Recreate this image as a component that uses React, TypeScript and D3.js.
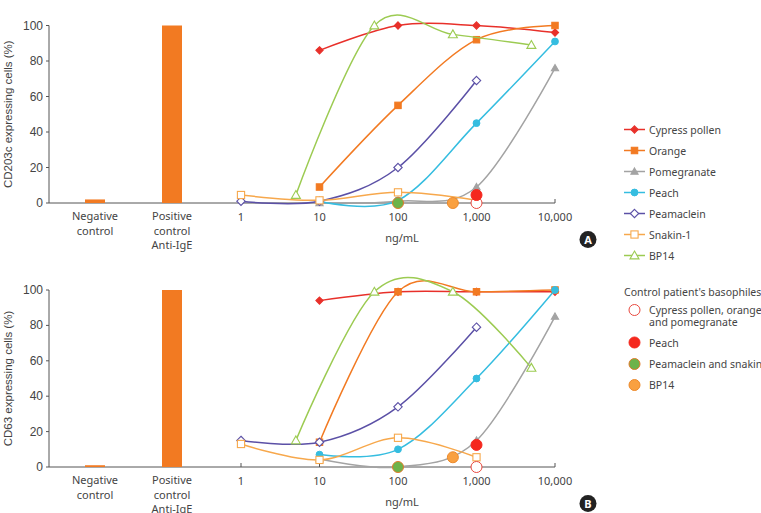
import React from "react";
import * as d3 from "d3";

// ---------- data ----------
const categories = ["Negative control", "Positive control Anti-IgE"];
const categoryLines = [["Negative", "control"], ["Positive", "control", "Anti-IgE"]];
const barsA = [2, 100];
const barsB = [1, 100];
const xTicks = [1, 10, 100, 1000, 10000];
const yTicks = [0, 20, 40, 60, 80, 100];

const seriesNames = ["Cypress pollen", "Orange", "Pomegranate", "Peach", "Peamaclein", "Snakin-1", "BP14"];
const seriesColors = ["#e8302a", "#f27a22", "#a3a3a3", "#35bde0", "#5b50a6", "#f7a84c", "#9ccb52"];
const seriesShapes = ["diamondFill", "squareFill", "triangleFill", "circleFill", "diamondOpen", "squareOpen", "triangleOpen"];

const concStd = [10, 100, 1000, 10000];
const concLow = [1, 10, 100, 1000];
const concBP = [5, 50, 500, 5000];

// Panel A (CD203c)
const cypressA = [86, 100, 100, 96];
const orangeA = [9, 55, 92, 100];
const pomegranateA = [0, 1, 9, 76];
const peachA = [1, 1.5, 45, 91];
const peamacleinA = [1, 1, 20, 69];
const snakinA = [4.5, 1.5, 6, 1.5];
const bp14A = [4.5, 100, 95, 89];

// Panel B (CD63)
const cypressB = [94, 99, 99, 99];
const orangeB = [14, 99, 99, 100];
const pomegranateB = [4.5, 0, 15, 85];
const peachB = [7, 10, 50, 100];
const peamacleinB = [15, 14, 34, 79];
const snakinB = [13, 4, 16.5, 5.5];
const bp14B = [15, 99, 99, 56];

const seriesX = [concStd, concStd, concStd, concStd, concLow, concLow, concBP];
const seriesA = [cypressA, orangeA, pomegranateA, peachA, peamacleinA, snakinA, bp14A];
const seriesB = [cypressB, orangeB, pomegranateB, peachB, peamacleinB, snakinB, bp14B];

// Control patient's basophiles
const controlNames = [["Cypress pollen, orange", "and pomegranate"], ["Peach"], ["Peamaclein and snakin"], ["BP14"]];
const controlFill = ["#ffffff", "#f5281e", "#6db34a", "#f9a040"];
const controlStroke = ["#e8493f", "#f5281e", "#e07a2a", "#ec8a2c"];
const controlX = [1000, 1000, 100, 500];
const controlA = [0, 4.5, 0, 0];
const controlB = [0, 12.5, 0, 5.5];

// ---------- layout ----------
const W = 761, H = 513;
const axisLeft = 49;
const xScale = d3.scaleLog().domain([1, 10000]).range([241, 555]);
const catScale = d3.scalePoint().domain(categories).range([95, 172]);
const yA = d3.scaleLinear().domain([0, 100]).range([203, 25.5]);
const yB = d3.scaleLinear().domain([0, 100]).range([467, 290]);

const tickFont = "'Liberation Sans', Arial, sans-serif";
const labelFont = "'Noto Sans', sans-serif";
const textColor = "#444";

function Marker({ shape, x, y, color }: { shape: string; x: number; y: number; color: string }) {
  const open = shape.endsWith("Open");
  const fill = open ? "#fff" : color;
  if (shape.startsWith("diamond")) {
    const s = open ? 4.2 : 3.6;
    return <path d={`M${x},${y - s}L${x + s},${y}L${x},${y + s}L${x - s},${y}Z`} fill={fill} stroke={color} strokeWidth={1.1} />;
  }
  if (shape.startsWith("square")) {
    const s = open ? 3.6 : 3.2;
    return <rect x={x - s} y={y - s} width={2 * s} height={2 * s} fill={fill} stroke={color} strokeWidth={1.1} />;
  }
  if (shape.startsWith("triangle")) {
    const s = open ? 4.5 : 3.6;
    return <path d={`M${x},${y - s}L${x + s},${y + s * 0.75}L${x - s},${y + s * 0.75}Z`} fill={fill} stroke={color} strokeWidth={1.1} />;
  }
  return <circle cx={x} cy={y} r={3.4} fill={fill} stroke={color} strokeWidth={1} />;
}

function Panel({ y, bars, series, control, title, badge, badgeY }: any) {
  const y0 = y(0);
  const line = d3
    .line<[number, number]>()
    .x((d) => xScale(d[0]))
    .y((d) => y(d[1]))
    .curve(d3.curveCardinal.tension(0));
  const titleY = (y(0) + y(100)) / 2;
  return (
    <g>
      {/* y axis */}
      <line x1={axisLeft} x2={axisLeft} y1={y(100)} y2={y0} stroke="#555" strokeWidth={1} />
      {yTicks.map((t) => (
        <g key={t}>
          <line x1={axisLeft - 3} x2={axisLeft} y1={y(t)} y2={y(t)} stroke="#555" />
          <text x={axisLeft - 6} y={y(t) + 4} textAnchor="end" fontSize={12} fontFamily={tickFont} fill={textColor}>
            {t}
          </text>
        </g>
      ))}
      <text
        transform={`translate(12,${titleY}) rotate(-90)`}
        textAnchor="middle"
        fontSize={11.5}
        fontFamily={tickFont}
        fill={textColor}
      >
        {title}
      </text>
      {/* x axis */}
      <line x1={axisLeft} x2={xScale(10000)} y1={y0} y2={y0} stroke="#555" strokeWidth={1} />
      {xTicks.map((t) => (
        <g key={t}>
          <line x1={xScale(t)} x2={xScale(t)} y1={y0 - 4} y2={y0} stroke="#555" />
          <text x={xScale(t)} y={y0 + 18} textAnchor="middle" fontSize={11} fontFamily={labelFont} fill={textColor}>
            {d3.format(",")(t)}
          </text>
        </g>
      ))}
      <text x={xScale(100) + 4} y={y0 + 39} textAnchor="middle" fontSize={11} fontFamily={labelFont} fill={textColor}>
        ng/mL
      </text>
      {/* bars */}
      {categories.map((c, i) => (
        <g key={c}>
          <rect x={(catScale(c) as number) - 10} width={20} y={y(bars[i])} height={y0 - y(bars[i])} fill="#f27a22" />
          {categoryLines[i].map((l, j) => (
            <text key={j} x={catScale(c)} y={y0 + 17 + j * 14.5} textAnchor="middle" fontSize={11} fontFamily={labelFont} fill={textColor}>
              {l}
            </text>
          ))}
        </g>
      ))}
      {/* series */}
      {series.map((vals: number[], si: number) => {
        const pts: [number, number][] = vals.map((v, k) => [seriesX[si][k], v]);
        return (
          <g key={si}>
            <path d={line(pts) as string} fill="none" stroke={seriesColors[si]} strokeWidth={1.5} />
            {pts.map((p, k) => (
              <Marker key={k} shape={seriesShapes[si]} x={xScale(p[0])} y={y(p[1])} color={seriesColors[si]} />
            ))}
          </g>
        );
      })}
      {/* control basophiles */}
      {control.map((v: number, i: number) => (
        <circle key={i} cx={xScale(controlX[i])} cy={y(v)} r={5.5} fill={controlFill[i]} stroke={controlStroke[i]} strokeWidth={1} />
      ))}
      {/* badge */}
      <circle cx={588} cy={badgeY} r={8.5} fill="#222" />
      <text x={588} y={badgeY + 4} textAnchor="middle" fontSize={11} fontWeight="bold" fontFamily={labelFont} fill="#fff">
        {badge}
      </text>
    </g>
  );
}

export default function App() {
  const legendX = 624;
  const legendY0 = 129.5;
  const legendStep = 21;
  const ctrlRows = [310, 342.5, 364, 385];
  return (
    <svg width={W} height={H} style={{ position: "absolute", left: 0, top: 0, background: "#fff" }}>
      <rect width={W} height={H} fill="#fff" />
      <Panel y={yA} bars={barsA} series={seriesA} control={controlA} title="CD203c expressing cells (%)" badge="A" badgeY={239.5} />
      <Panel y={yB} bars={barsB} series={seriesB} control={controlB} title="CD63 expressing cells (%)" badge="B" badgeY={503.5} />
      {/* series legend */}
      {seriesNames.map((n, i) => {
        const ly = legendY0 + i * legendStep;
        return (
          <g key={n}>
            <line x1={legendX} x2={legendX + 21} y1={ly} y2={ly} stroke={seriesColors[i]} strokeWidth={1.5} />
            <Marker shape={seriesShapes[i]} x={legendX + 10.5} y={ly} color={seriesColors[i]} />
            <text x={legendX + 25} y={ly + 4} fontSize={10.5} fontFamily={labelFont} fill={textColor}>
              {n}
            </text>
          </g>
        );
      })}
      {/* control legend */}
      <text x={legendX} y={295.5} fontSize={10.5} fontFamily={labelFont} fill={textColor}>
        Control patient's basophiles
      </text>
      {controlNames.map((lines, i) => (
        <g key={i}>
          <circle cx={634.5} cy={ctrlRows[i]} r={5.5} fill={controlFill[i]} stroke={controlStroke[i]} strokeWidth={1} />
          {lines.map((l, j) => (
            <text key={j} x={649} y={ctrlRows[i] + 4 + j * 12} fontSize={10.5} fontFamily={labelFont} fill={textColor}>
              {l}
            </text>
          ))}
        </g>
      ))}
    </svg>
  );
}
